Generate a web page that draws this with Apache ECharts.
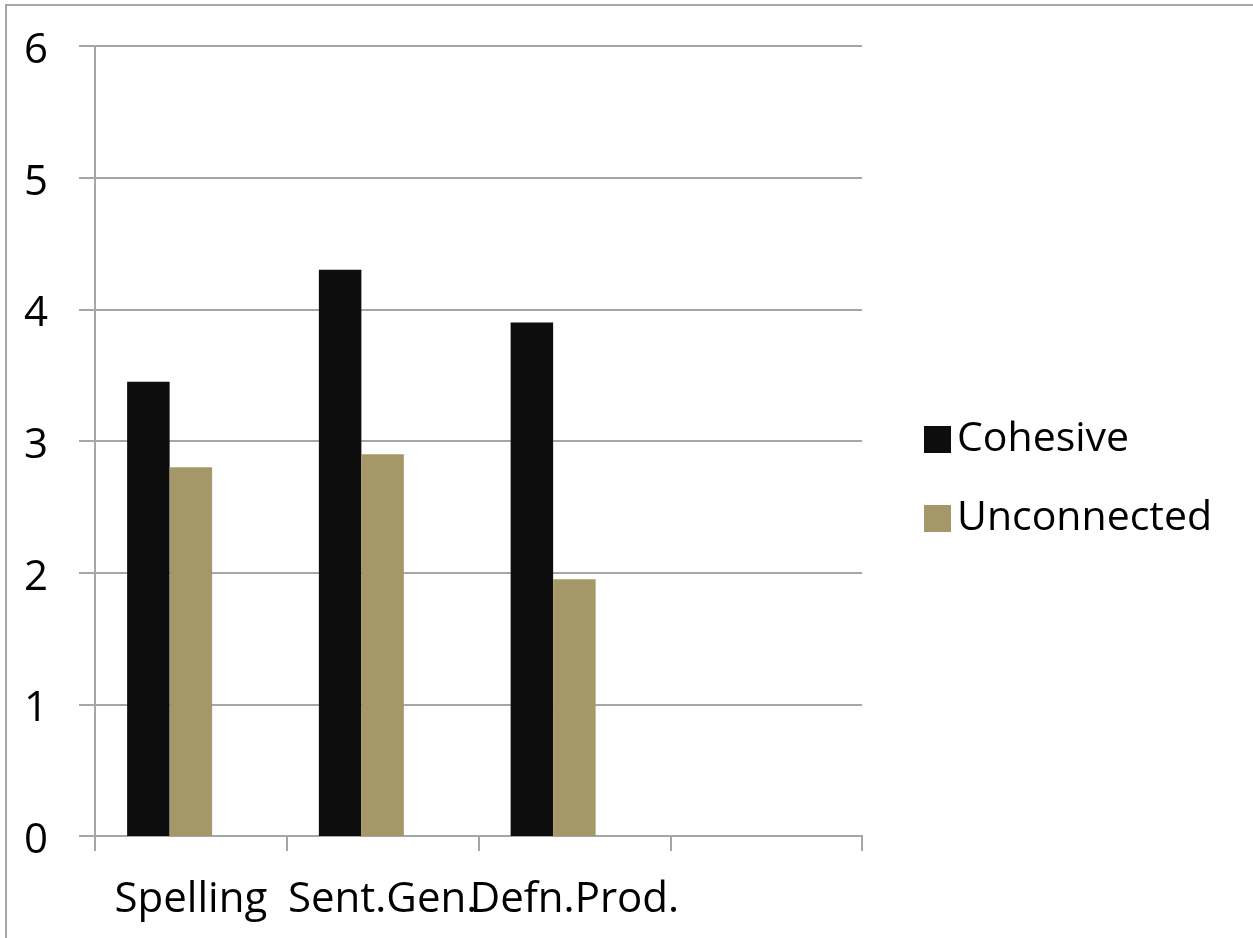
<!DOCTYPE html>
<html>
<head>
<meta charset="utf-8">
<script src="https://cdn.jsdelivr.net/npm/echarts@6/dist/echarts.min.js"></script>
<style>
  html, body { margin: 0; padding: 0; background: #fff; }
  #main { width: 1253px; height: 938px; }
</style>
</head>
<body>
<div id="main"></div>
<script>
// chart data
var categories = ['Spelling', 'Sent.Gen.', 'Defn.Prod.', ''];
var cohesive = [3.45, 4.3, 3.9, null];
var unconnected = [2.8, 2.9, 1.95, null];
// empty third series of the original sheet: it keeps the bar pairs off-centre
var series3 = [null, null, null, null];
var yTicks = [0, 1, 2, 3, 4, 5, 6];

var chart = echarts.init(document.getElementById('main'));
var axisGray = '#a6a6a6';
var font = 'Open Sans';

var option = {
  animation: false,
  backgroundColor: '#fff',
  textStyle: { fontFamily: font },
  // outer frame
  graphic: [{
    type: 'rect',
    shape: { x: 6, y: 5, width: 1400, height: 1100 },
    style: { fill: 'none', stroke: axisGray, lineWidth: 2 },
    silent: true
  }],
  grid: { left: 95, right: 391, top: 46, bottom: 102 },
  legend: {
    orient: 'vertical',
    left: 919,
    top: 414,
    icon: 'rect',
    itemWidth: 27,
    itemHeight: 27,
    itemGap: 38,
    textStyle: { fontFamily: font, fontSize: 41, color: '#000', padding: [0, 0, 0, 1] },
    data: ['Cohesive', 'Unconnected']
  },
  xAxis: {
    type: 'category',
    data: categories,
    axisLine: { lineStyle: { color: axisGray, width: 2 } },
    axisTick: { show: true, length: 15, lineStyle: { color: axisGray, width: 2 } },
    axisLabel: { interval: 0, hideOverlap: false, margin: 43, fontFamily: font, fontSize: 42, color: '#000' },
    splitLine: { show: false }
  },
  yAxis: {
    type: 'value',
    min: yTicks[0],
    max: yTicks[yTicks.length - 1],
    interval: 1,
    axisLine: { show: true, lineStyle: { color: axisGray, width: 2 } },
    axisTick: { show: true, length: 16, lineStyle: { color: axisGray, width: 2 } },
    axisLabel: {
      margin: 47, fontFamily: font, fontSize: 42, color: '#000',
      align: 'right', verticalAlign: 'top', lineHeight: 10
    },
    splitLine: { show: true, lineStyle: { color: axisGray, width: 2 } }
  },
  series: [
    {
      name: 'Cohesive',
      type: 'bar',
      data: cohesive,
      barWidth: 42.5,
      barGap: '0%',
      itemStyle: { color: '#0d0d0d' }
    },
    {
      name: 'Unconnected',
      type: 'bar',
      data: unconnected,
      barWidth: 42.5,
      barGap: '0%',
      itemStyle: { color: '#a59868' }
    },
    {
      name: 'Series3',
      type: 'bar',
      data: series3,
      barWidth: 42.5,
      barGap: '0%',
      itemStyle: { color: '#7f7f7f' }
    }
  ]
};
chart.setOption(option);
</script>
</body>
</html>
